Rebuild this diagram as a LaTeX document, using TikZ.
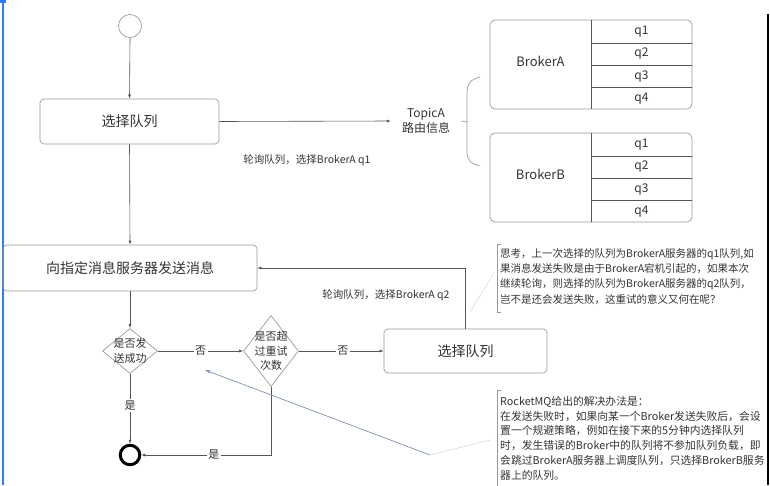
\documentclass[tikz,border=0pt]{standalone}
\usepackage{fontspec}
\setmainfont{Noto Sans CJK SC}
\usetikzlibrary{shapes.geometric,arrows.meta}
\definecolor{boxc}{HTML}{9A9A9A}
\definecolor{linec}{HTML}{555555}
\definecolor{txtc}{HTML}{333333}
\definecolor{bluec}{HTML}{2F7BFF}
\definecolor{arrblue}{HTML}{7F93B3}
\tikzset{
  arr/.style={draw=linec, line width=0.6pt, -{Latex[length=4pt,width=3pt]}},
  ln/.style={draw=linec, line width=0.6pt},
  rbox/.style={draw=boxc, line width=0.7pt, rounded corners=4pt, text=txtc, font=\fontsize{14}{16}\selectfont, inner sep=0pt},
  dia/.style={diamond, draw=boxc, line width=0.7pt, inner sep=0pt},
  diatxt/.style={text=txtc, font=\fontsize{11}{14.5}\selectfont, align=center},
  lbl/.style={text=txtc, font=\fontsize{10.5}{12}\selectfont, inner sep=1pt},
  yn/.style={text=txtc, font=\fontsize{11}{12}\selectfont, fill=white, inner sep=1.5pt},
  qcell/.style={text=txtc, font=\fontsize{12}{12}\selectfont, inner sep=0pt},
  note/.style={text=txtc, align=left, anchor=north west, inner sep=0pt},
}
\begin{document}
\begin{tikzpicture}[x=1pt,y=-1pt]
\useasboundingbox (0,0) rectangle (770,485);
% screen artefacts
\fill[bluec] (0,0) rectangle (6,3);
\draw[bluec, line width=2pt] (2.5,0) -- (2.5,485);
\draw[black, line width=1.4pt] (768,14) -- (768,485);

% start
\node[circle, draw=boxc, line width=0.7pt, minimum size=23pt, inner sep=0pt] (start) at (130,26) {};
\node[rbox, minimum width=179pt, minimum height=45pt] (sel1) at (129.5,121.5) {选择队列};
\node[rbox, minimum width=254pt, minimum height=46pt] (send) at (130,268) {向指定消息服务器发送消息};
\node[dia, minimum width=55pt, minimum height=45pt] (d1) at (130,351) {};
\node[diatxt] at (d1) {是否发\\送成功};
\node[dia, minimum width=55pt, minimum height=71pt] (d2) at (271,351) {};
\node[diatxt] at (d2) {是否超\\过重试\\次数};
\node[rbox, minimum width=163pt, minimum height=44pt] (sel2) at (465.5,351) {选择队列};
\node[circle, draw=black, line width=3pt, minimum size=19.5pt, inner sep=0pt] (end) at (130,455) {};

% topic
\node[text=txtc, font=\fontsize{12}{15.5}\selectfont, align=center, inner xsep=11pt, inner ysep=0pt] (topic) at (426,121) {TopicA\\路由信息};
\draw[draw=boxc, line width=0.7pt] (topic.east) -- (467,122);
\draw[draw=boxc, line width=0.7pt] (480,77) .. controls (471,79) and (467,84) .. (467,92) -- (467,152) .. controls (467,160) and (471,164) .. (480,166);

% brokers
\foreach \nm/\yt in {A/20, B/133} {
  \draw[draw=boxc, line width=0.7pt, rounded corners=5pt] (490,\yt) rectangle (692,\yt+89);
  \draw[draw=linec, line width=0.7pt] (591,\yt) -- (591,\yt+89);
  \draw[draw=linec, line width=0.7pt] (591,\yt+23) -- (692,\yt+23);
  \draw[draw=linec, line width=0.7pt] (591,\yt+45.5) -- (692,\yt+45.5);
  \draw[draw=linec, line width=0.7pt] (591,\yt+67.5) -- (692,\yt+67.5);
  \node[qcell, font=\fontsize{13}{13}\selectfont] (broker\nm) at (540.5,\yt+41) {Broker\nm};
  \node[qcell] (\nm q1) at (641.5,\yt+11.5) {q1};
  \node[qcell] (\nm q2) at (641.5,\yt+34) {q2};
  \node[qcell] (\nm q3) at (641.5,\yt+56.5) {q3};
  \node[qcell] (\nm q4) at (641.5,\yt+78.5) {q4};
}

% connectors
\draw[arr] (start.south) -- (sel1.north);
\draw[arr] (sel1.east) -- (topic.west);
\draw[arr] (sel1.south) -- (send.north);
\draw[arr] (send.south) -- (d1.north);
\draw[arr] (d1.east) -- node[yn, pos=0.5] {否} (d2.west);
\draw[arr] (d2.east) -- node[yn, pos=0.52] {否} (sel2.west);
\draw[arr] (sel2.north) |- (send.east);
\draw[arr] (d1.south) -- node[yn, pos=0.45] {是} (end.north);
\draw[arr] (d2.south) |- node[yn, pos=0.72] {是} (end.east);

\node[lbl] (l1) at (307,160) {轮询队列，选择BrokerA q1};
\node[lbl] (l2) at (386,295) {轮询队列，选择BrokerA q2};

% callouts
\coordinate (bt) at (430,455);
\coordinate (bh) at (205,370);
\draw[arrblue, line width=0.7pt, -{Stealth[length=6pt,width=3.5pt]}] (bt) -- (bh);
\draw[black!15, line width=0.6pt] (bt) -- (490,440);
\draw[black!15, line width=0.6pt] (470,312) -- (494,273);

% notes
\draw[draw=boxc, line width=0.7pt] (501,244) -- (497,244) -- (497,312) -- (501,312);
\node[note, font=\fontsize{10.5}{15.4}\selectfont] (n1) at (500,248) {思考，上一次选择的队列为BrokerA服务器的q1队列,如\\果消息发送失败是由于BrokerA宕机引起的，如果本次\\继续轮询，则选择的队列为BrokerA服务器的q2队列，\\岂不是还会发送失败，这重试的意义又何在呢？};
\draw[draw=boxc, line width=0.7pt] (501,390) -- (497,390) -- (497,486);
\node[note, font=\fontsize{10.8}{14.8}\selectfont] (n2) at (500,396) {RocketMQ给出的解决办法是：\\在发送失败时，如果向某一个Broker发送失败后，会设\\置一个规避策略，例如在接下来的5分钟内选择队列\\时，发生错误的Broker中的队列将不参加队列负载，即\\会跳过BrokerA服务器上调度队列，只选择BrokerB服务\\器上的队列。};
\end{tikzpicture}
\end{document}
